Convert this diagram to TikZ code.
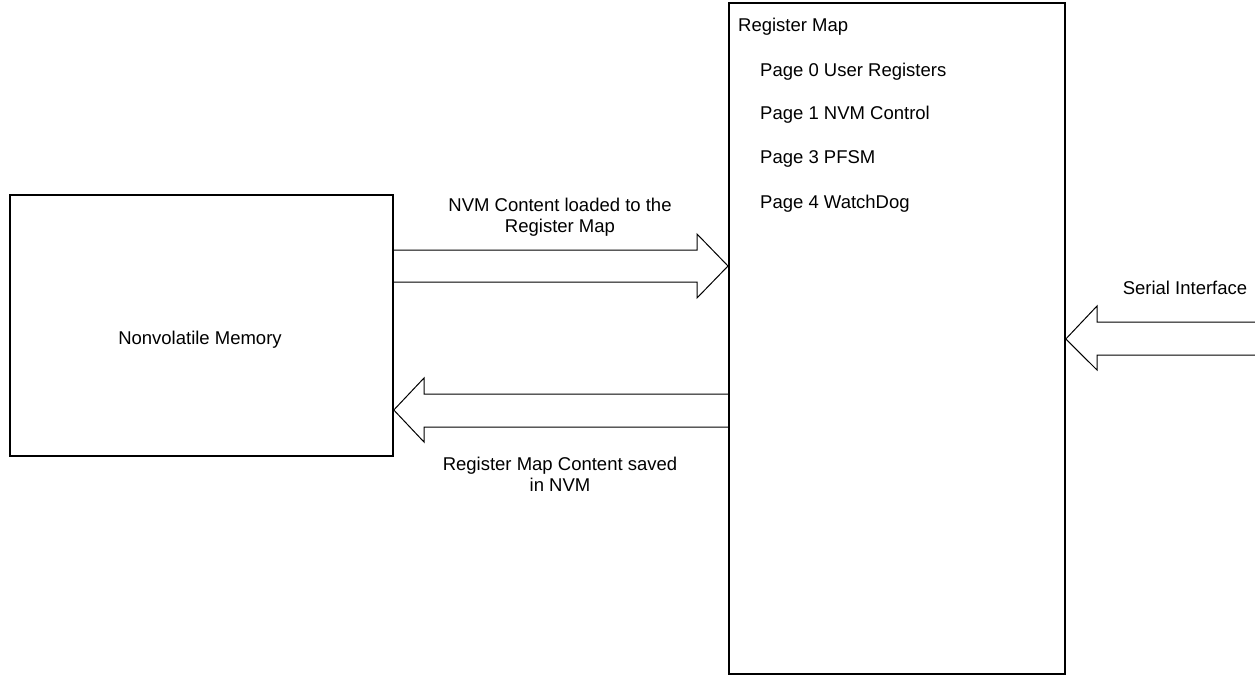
\documentclass[tikz,border=0pt]{standalone}
\usepackage{fontspec}
\setmainfont{Liberation Sans}
\begin{document}
\begin{tikzpicture}[x=1pt,y=-1pt,
  box/.style={draw, line width=1.8pt, inner sep=0pt, anchor=north west},
  blk/.style={draw, line width=1pt, line join=miter},
  lbl/.style={font=\fontsize{18.5}{21}\selectfont, align=center, inner sep=0pt},
  lft/.style={font=\fontsize{18.5}{21}\selectfont, anchor=west, inner sep=0pt}]
\useasboundingbox (0,0) rectangle (1255,675);
\node[box, minimum width=383pt, minimum height=261pt] (nvm) at (9,194) {};
\node[box, minimum width=336pt, minimum height=671pt] (reg) at (728,2) {};
\node[lbl] (nvmtext) at (200,340) {Nonvolatile Memory};
\node[lft] (regtitle) at (738,27) {Register Map};
\node[lft] (p0) at (760,72) {Page 0 User Registers};
\node[lft] (p1) at (760,115) {Page 1 NVM Control};
\node[lft] (p3) at (760,159) {Page 3 PFSM};
\node[lft] (p4) at (760,204) {Page 4 WatchDog};
\node[lbl] (loadlbl) at (560,217) {NVM Content loaded to the\\Register Map};
\node[lbl] (savelbl) at (560,474) {Register Map Content saved\\in NVM};
\node[lbl] (serlbl) at (1185,288) {Serial Interface};
% NVM -> Register map
\coordinate (a1s) at (nvm.east |- 0,250);
\coordinate (a1t) at (reg.west |- 0,266);
\draw[blk] (a1s) -- (697,250) -- (697,234) -- (a1t) -- (697,298) -- (697,282) -- (nvm.east |- 0,282);
% Register map -> NVM
\coordinate (a2s) at (reg.west |- 0,394);
\coordinate (a2t) at (nvm.east |- 0,410);
\draw[blk] (a2s) -- (424,394) -- (424,378) -- (a2t) -- (424,442) -- (424,427) -- (reg.west |- 0,427);
% Serial interface
\coordinate (serin) at (1255,322);
\coordinate (a3t) at (reg.east |- 0,339);
\draw[blk] (serin) -- (1097,322) -- (1097,306) -- (a3t) -- (1097,370) -- (1097,355) -- (1255,355);
\end{tikzpicture}
\end{document}
